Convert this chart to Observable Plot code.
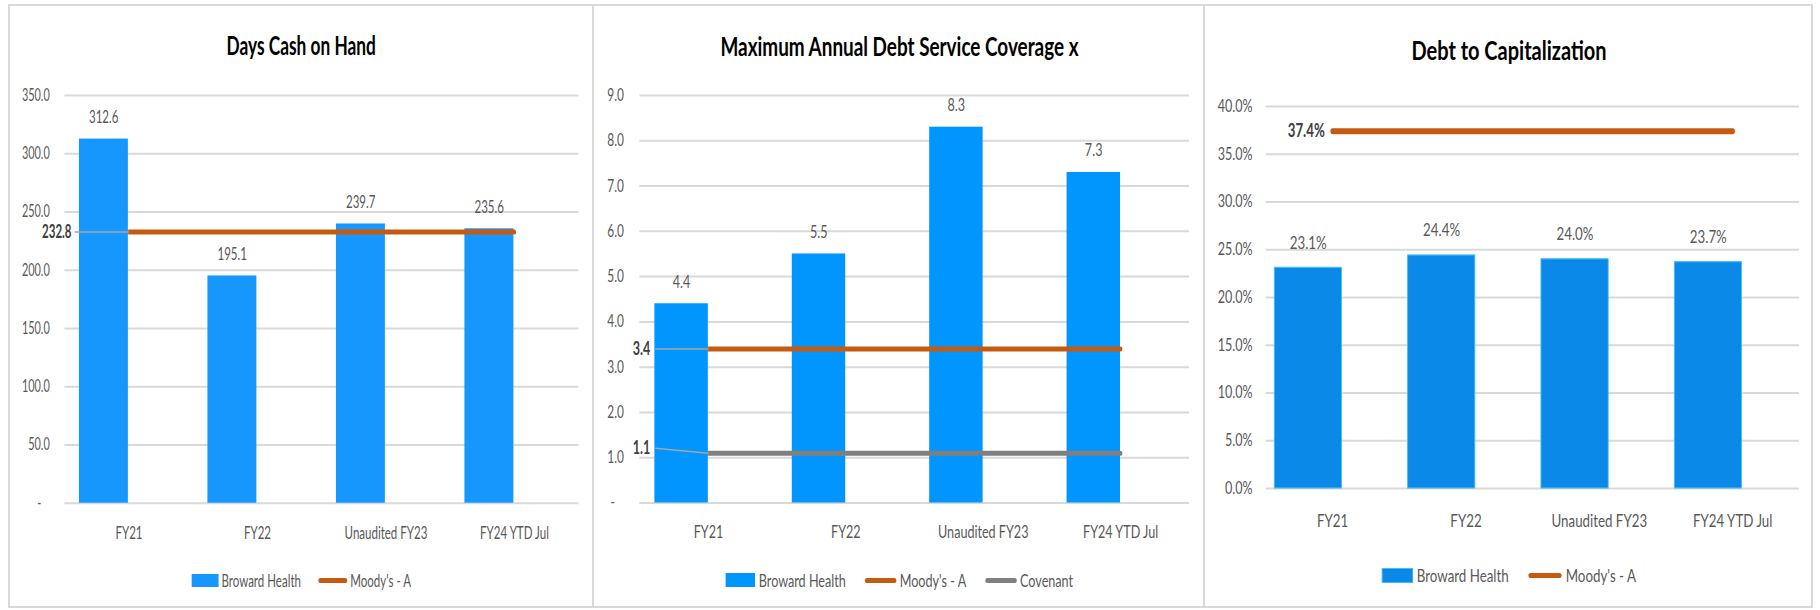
<!DOCTYPE html>
<html>
<head>
<meta charset="utf-8">
<script src="https://cdn.jsdelivr.net/npm/d3@7"></script>
<script src="https://cdn.jsdelivr.net/npm/@observablehq/plot@0.6"></script>
<style>
html,body{margin:0;padding:0;background:#fff;overflow:hidden;width:1820px;height:610px;}
#page{position:relative;width:1820px;height:610px;overflow:hidden;}
.box{position:absolute;box-sizing:border-box;border:2px solid #d9d9d9;}
.panel{position:absolute;top:0;height:610px;transform-origin:0 0;}
.title{position:absolute;left:0;right:0;text-align:center;font-family:Lato,sans-serif;font-weight:700;font-size:27px;line-height:27px;color:#000;white-space:nowrap;}
.legend{position:absolute;left:0;right:0;height:22px;display:flex;justify-content:center;align-items:center;font-family:Lato,sans-serif;font-size:18px;color:#595959;white-space:nowrap;}
.item{display:flex;align-items:center;}
</style>
</head>
<body>
<div id="page"></div>
<script>
// ---------------- DATA ----------------
const categories = ["FY21", "FY22", "Unaudited FY23", "FY24 YTD Jul"];
const seriesName = "Broward Health";
const moodysName = "Moody's - A";
const covenantName = "Covenant";

const daysCash = [312.6, 195.1, 239.7, 235.6];
const daysCashMoodys = [232.8, 232.8, 232.8, 232.8];
const daysCashTicks = [0, 50, 100, 150, 200, 250, 300, 350];

const madsCoverage = [4.4, 5.5, 8.3, 7.3];
const madsMoodys = [3.4, 3.4, 3.4, 3.4];
const madsCovenant = [1.1, 1.1, 1.1, 1.1];
const madsTicks = [0, 1, 2, 3, 4, 5, 6, 7, 8, 9];

const debtToCap = [0.231, 0.244, 0.240, 0.237];
const debtToCapMoodys = [0.374, 0.374, 0.374, 0.374];
const debtToCapTicks = [0, 0.05, 0.10, 0.15, 0.20, 0.25, 0.30, 0.35, 0.40];

// ---------------- STYLE / LAYOUT ----------------
const f1 = d3.format(".1f");
const fp = d3.format(".1%");
const dashZero = fmt => d => d === 0 ? "-\u00a0\u00a0\u00a0" : fmt(d);

const panels = [
  {
    left: 7.6, right: 594, s: 0.64, title: "Days Cash on Hand", titleTop: 31,
    values: daysCash, ticks: daysCashTicks, tickFormat: dashZero(f1), valFormat: f1,
    yTop: 95, yBottom: 502.7, plotLeft: 64, plotRight: 578, tickPad: 15, xPad: 22.6,
    bar: [0.113, 0.494], barFill: "#1597fe", barStroke: null, valueDy: -22,
    swatchH: 13, legendY: 580,
    refs: [
      {name: moodysName, values: daysCashMoodys, color: "#c55a11", width: 5, labelX: 0.053, leaderX: 0.078, lift: 0}
    ]
  },
  {
    left: 594, right: 1205, s: 0.70, title: "Maximum Annual Debt Service Coverage x", titleTop: 32,
    values: madsCoverage, ticks: madsTicks, tickFormat: dashZero(f1), valFormat: f1,
    yTop: 95, yBottom: 502.5, plotLeft: 639.4, plotRight: 1189, tickPad: 15.8, xPad: 22,
    bar: [0.109, 0.498], barFill: "#0096fe", barStroke: null, valueDy: -22,
    swatchH: 14, legendY: 580,
    refs: [
      {name: moodysName, values: madsMoodys, color: "#c55a11", width: 5, labelX: 0.077, leaderX: 0.113, lift: 0},
      {name: covenantName, values: madsCovenant, color: "#7f7f7f", width: 5, labelX: 0.077, leaderX: 0.113, lift: 0.11}
    ]
  },
  {
    left: 1205, right: 1813, s: 0.74, title: "Debt to Capitalization", titleTop: 36,
    values: debtToCap, ticks: debtToCapTicks, tickFormat: fp, valFormat: fp,
    yTop: 106, yBottom: 488, plotLeft: 1265.6, plotRight: 1799, tickPad: 13.4, xPad: 25.6,
    bar: [0.065, 0.569], barFill: "#0a89e8", barStroke: "#45bdf2", valueDy: -25,
    swatchH: 15, legendY: 575,
    refs: [
      {name: moodysName, values: debtToCapMoodys, color: "#c55a11", width: 6, labelX: 0.442, leaderX: null, lift: 0}
    ]
  }
];

const page = document.getElementById("page");
const SVG_TOP = 70, SVG_H = 490;

// panel frames
panels.forEach((c, k) => {
  const b = document.createElement("div");
  b.className = "box";
  b.style.left = (k === 0 ? c.left : c.left - 2) + "px";
  b.style.top = "4px";
  b.style.width = (c.right - c.left + (k === 0 ? 0 : 2)) + "px";
  b.style.height = "604px";
  page.appendChild(b);
});

function drawPanel(c) {
  const s = c.s;
  const W = (c.right - c.left) / s;
  const n = categories.length;
  const wrap = document.createElement("div");
  wrap.className = "panel";
  wrap.style.left = c.left + "px";
  wrap.style.width = W + "px";
  wrap.style.transform = `scaleX(${s})`;

  const t = document.createElement("div");
  t.className = "title";
  t.style.top = c.titleTop + "px";
  t.textContent = c.title;
  wrap.appendChild(t);

  const bars = categories.map((cat, i) => ({i, cat, v: c.values[i]}));
  const marks = [
    Plot.gridY(c.ticks, {stroke: "#d9d9d9", strokeOpacity: 1, strokeWidth: 2}),
    Plot.axisY(c.ticks, {tickSize: 0, tickPadding: c.tickPad / s, tickFormat: c.tickFormat, fontSize: 17, color: "#595959", label: null}),
    Plot.axisX(categories.map((d, i) => i + 0.5), {tickSize: 0, tickPadding: c.xPad, tickFormat: d => categories[Math.floor(d)], fontSize: 18, color: "#595959", label: null}),
    Plot.rect(bars, {x1: d => d.i + c.bar[0], x2: d => d.i + c.bar[1], y1: 0, y2: "v", fill: c.barFill, stroke: c.barStroke || "none", strokeWidth: 1.2})
  ];
  for (const r of c.refs) {
    const pts = categories.map((cat, i) => ({i, v: r.values[i]}));
    marks.push(Plot.line(pts, {x: d => d.i + 0.5, y: "v", stroke: r.color, strokeWidth: r.width, strokeLinecap: "round"}));
  }
  for (const r of c.refs) {
    const first = [{v: r.values[0]}];
    if (r.leaderX != null) {
      marks.push(Plot.link(first, {x1: r.leaderX, y1: d => d.v + r.lift, x2: 0.5, y2: "v", stroke: "#a6a6a6", strokeWidth: 1.5}));
    }
    marks.push(Plot.text(first, {x: r.labelX, y: d => d.v + r.lift, text: d => c.valFormat(d.v), textAnchor: "end", fontWeight: "bold", fontSize: 18, fill: "#404040"}));
  }
  marks.push(Plot.text(bars, {x: d => d.i + (c.bar[0] + c.bar[1]) / 2, y: "v", text: d => c.valFormat(d.v), dy: c.valueDy, fontSize: 18, fill: "#595959"}));

  const svg = Plot.plot({
    width: W,
    height: SVG_H,
    marginTop: c.yTop - SVG_TOP,
    marginBottom: SVG_TOP + SVG_H - c.yBottom,
    marginLeft: (c.plotLeft - c.left) / s,
    marginRight: (c.right - c.plotRight) / s,
    x: {domain: [0, n]},
    y: {domain: [c.ticks[0], c.ticks[c.ticks.length - 1]]},
    style: {fontFamily: "Lato, sans-serif", background: "transparent", overflow: "visible"},
    marks
  });
  svg.style.position = "absolute";
  svg.style.left = "0px";
  svg.style.top = SVG_TOP + "px";
  svg.style.maxWidth = "none";
  wrap.appendChild(svg);

  // legend
  const lg = document.createElement("div");
  lg.className = "legend";
  lg.style.top = (c.legendY - 11) + "px";
  lg.style.gap = "27px";
  const items = [{type: "bar", label: seriesName, color: c.barFill, stroke: c.barStroke}]
    .concat(c.refs.map(r => ({type: "line", label: r.name, color: r.color})));
  for (const it of items) {
    const el = document.createElement("div");
    el.className = "item";
    const sw = document.createElement("span");
    sw.style.display = "inline-block";
    sw.style.boxSizing = "border-box";
    if (it.type === "bar") {
      sw.style.width = "42px"; sw.style.height = c.swatchH + "px"; sw.style.background = it.color;
      if (it.stroke) sw.style.border = "1px solid " + it.stroke;
    } else {
      sw.style.width = "45px"; sw.style.height = "5px"; sw.style.background = it.color; sw.style.borderRadius = "3px";
    }
    sw.style.marginRight = "5px";
    const tx = document.createElement("span");
    tx.textContent = it.label;
    el.appendChild(sw); el.appendChild(tx);
    lg.appendChild(el);
  }
  wrap.appendChild(lg);
  page.appendChild(wrap);
}

panels.forEach(drawPanel);
</script>
</body>
</html>
